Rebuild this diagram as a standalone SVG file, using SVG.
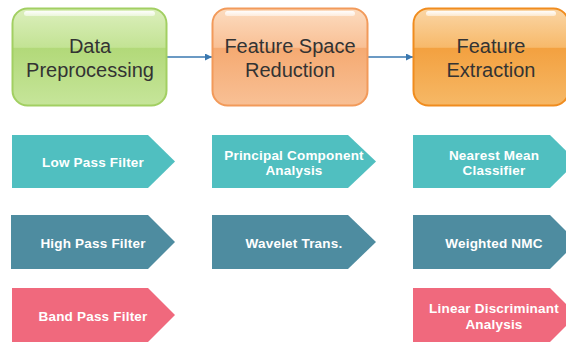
<svg xmlns="http://www.w3.org/2000/svg" width="566" height="342" viewBox="0 0 566 342">
<defs>
<linearGradient id="gGreen" x1="0" y1="0" x2="0" y2="1">
<stop offset="0" stop-color="#dcefbd"/>
<stop offset="0.4" stop-color="#c3e394"/>
<stop offset="0.41" stop-color="#b2d979"/>
<stop offset="1" stop-color="#c6e59a"/>
</linearGradient>
<linearGradient id="gOrange" x1="0" y1="0" x2="0" y2="1">
<stop offset="0" stop-color="#fcdcc0"/>
<stop offset="0.4" stop-color="#f9c095"/>
<stop offset="0.41" stop-color="#f5aa72"/>
<stop offset="1" stop-color="#f8c095"/>
</linearGradient>
<linearGradient id="gDeep" x1="0" y1="0" x2="0" y2="1">
<stop offset="0" stop-color="#fad6a6"/>
<stop offset="0.4" stop-color="#f7b96a"/>
<stop offset="0.41" stop-color="#f3a140"/>
<stop offset="1" stop-color="#f6b866"/>
</linearGradient>
<linearGradient id="gloss" x1="0" y1="0" x2="0" y2="1">
<stop offset="0" stop-color="#ffffff" stop-opacity="0.95"/>
<stop offset="1" stop-color="#ffffff" stop-opacity="0.5"/>
</linearGradient>
<marker id="ah" viewBox="0 0 10 10" refX="10" refY="5" markerWidth="7" markerHeight="7" orient="auto" markerUnits="userSpaceOnUse">
<path d="M0,0 L10,5 L0,10 z" fill="#3a78b0"/>
</marker>
</defs>
<style>
.hdr{font-family:"Liberation Sans",Arial,sans-serif;font-size:20px;fill:#333333;text-anchor:middle}
.chv{font-family:"Liberation Sans",Arial,sans-serif;font-size:13.5px;font-weight:bold;fill:#ffffff;text-anchor:middle;letter-spacing:0.2px}
.gl{fill:url(#gloss)}
.c1{fill:#50bfc0}
.c2{fill:#4e8ca0}
.c3{fill:#f0697d}
</style>
<g id="connectors" stroke="#3a78b0" stroke-width="1.3" fill="none">
<line x1="167" y1="57" x2="212" y2="57" marker-end="url(#ah)"/>
<line x1="368" y1="57" x2="413" y2="57" marker-end="url(#ah)"/>
</g>
<g id="data-preprocessing">
<rect x="12.5" y="8.5" width="154" height="97" rx="15" fill="url(#gGreen)" stroke="#a2cf62" stroke-width="2"/>
<rect x="24" y="11" width="131" height="5" rx="2.5" class="gl"/>
<text class="hdr" x="90" y="53">Data</text>
<text class="hdr" x="90" y="77">Preprocessing</text>
</g>
<g id="feature-space-reduction">
<rect x="212.5" y="8.5" width="155" height="97" rx="15" fill="url(#gOrange)" stroke="#f29a5a" stroke-width="2"/>
<rect x="225" y="11" width="130" height="5" rx="2.5" class="gl"/>
<text class="hdr" x="290" y="53">Feature Space</text>
<text class="hdr" x="290" y="77">Reduction</text>
</g>
<g id="feature-extraction">
<rect x="413.5" y="8.5" width="155" height="97" rx="15" fill="url(#gDeep)" stroke="#f08c1e" stroke-width="2"/>
<rect x="426" y="11" width="130" height="5" rx="2.5" class="gl"/>
<text class="hdr" x="491" y="53">Feature</text>
<text class="hdr" x="491" y="77">Extraction</text>
</g>
<g id="low-pass-filter">
<path class="c1" d="M12,135 H148 L175,161.5 L148,188 H12 z"/>
<text class="chv" x="93" y="167">Low Pass Filter</text>
</g>
<g id="high-pass-filter">
<path class="c2" d="M11,215 H148 L175,242 L148,269 H11 z"/>
<text class="chv" x="93" y="247.5">High Pass Filter</text>
</g>
<g id="band-pass-filter">
<path class="c3" d="M12,288 H148 L175,315 L148,342 H12 z"/>
<text class="chv" x="93" y="320.5">Band Pass Filter</text>
</g>
<g id="principal-component-analysis">
<path class="c1" d="M212,135 H348 L376,161.5 L348,188 H212 z"/>
<text class="chv" x="294" y="160">Principal Component</text>
<text class="chv" x="294" y="175">Analysis</text>
</g>
<g id="wavelet-trans">
<path class="c2" d="M212,215 H348 L376,242 L348,269 H212 z"/>
<text class="chv" x="294" y="247.5">Wavelet Trans.</text>
</g>
<g id="nearest-mean-classifier">
<path class="c1" d="M413,135 H550 L577,161.5 L550,188 H413 z"/>
<text class="chv" x="494" y="160">Nearest Mean</text>
<text class="chv" x="494" y="175">Classifier</text>
</g>
<g id="weighted-nmc">
<path class="c2" d="M413,215 H550 L577,242 L550,269 H413 z"/>
<text class="chv" x="494" y="247.5">Weighted NMC</text>
</g>
<g id="linear-discriminant-analysis">
<path class="c3" d="M413,288 H550 L577,315 L550,342 H413 z"/>
<text class="chv" x="494" y="313">Linear Discriminant</text>
<text class="chv" x="494" y="329">Analysis</text>
</g>
</svg>
